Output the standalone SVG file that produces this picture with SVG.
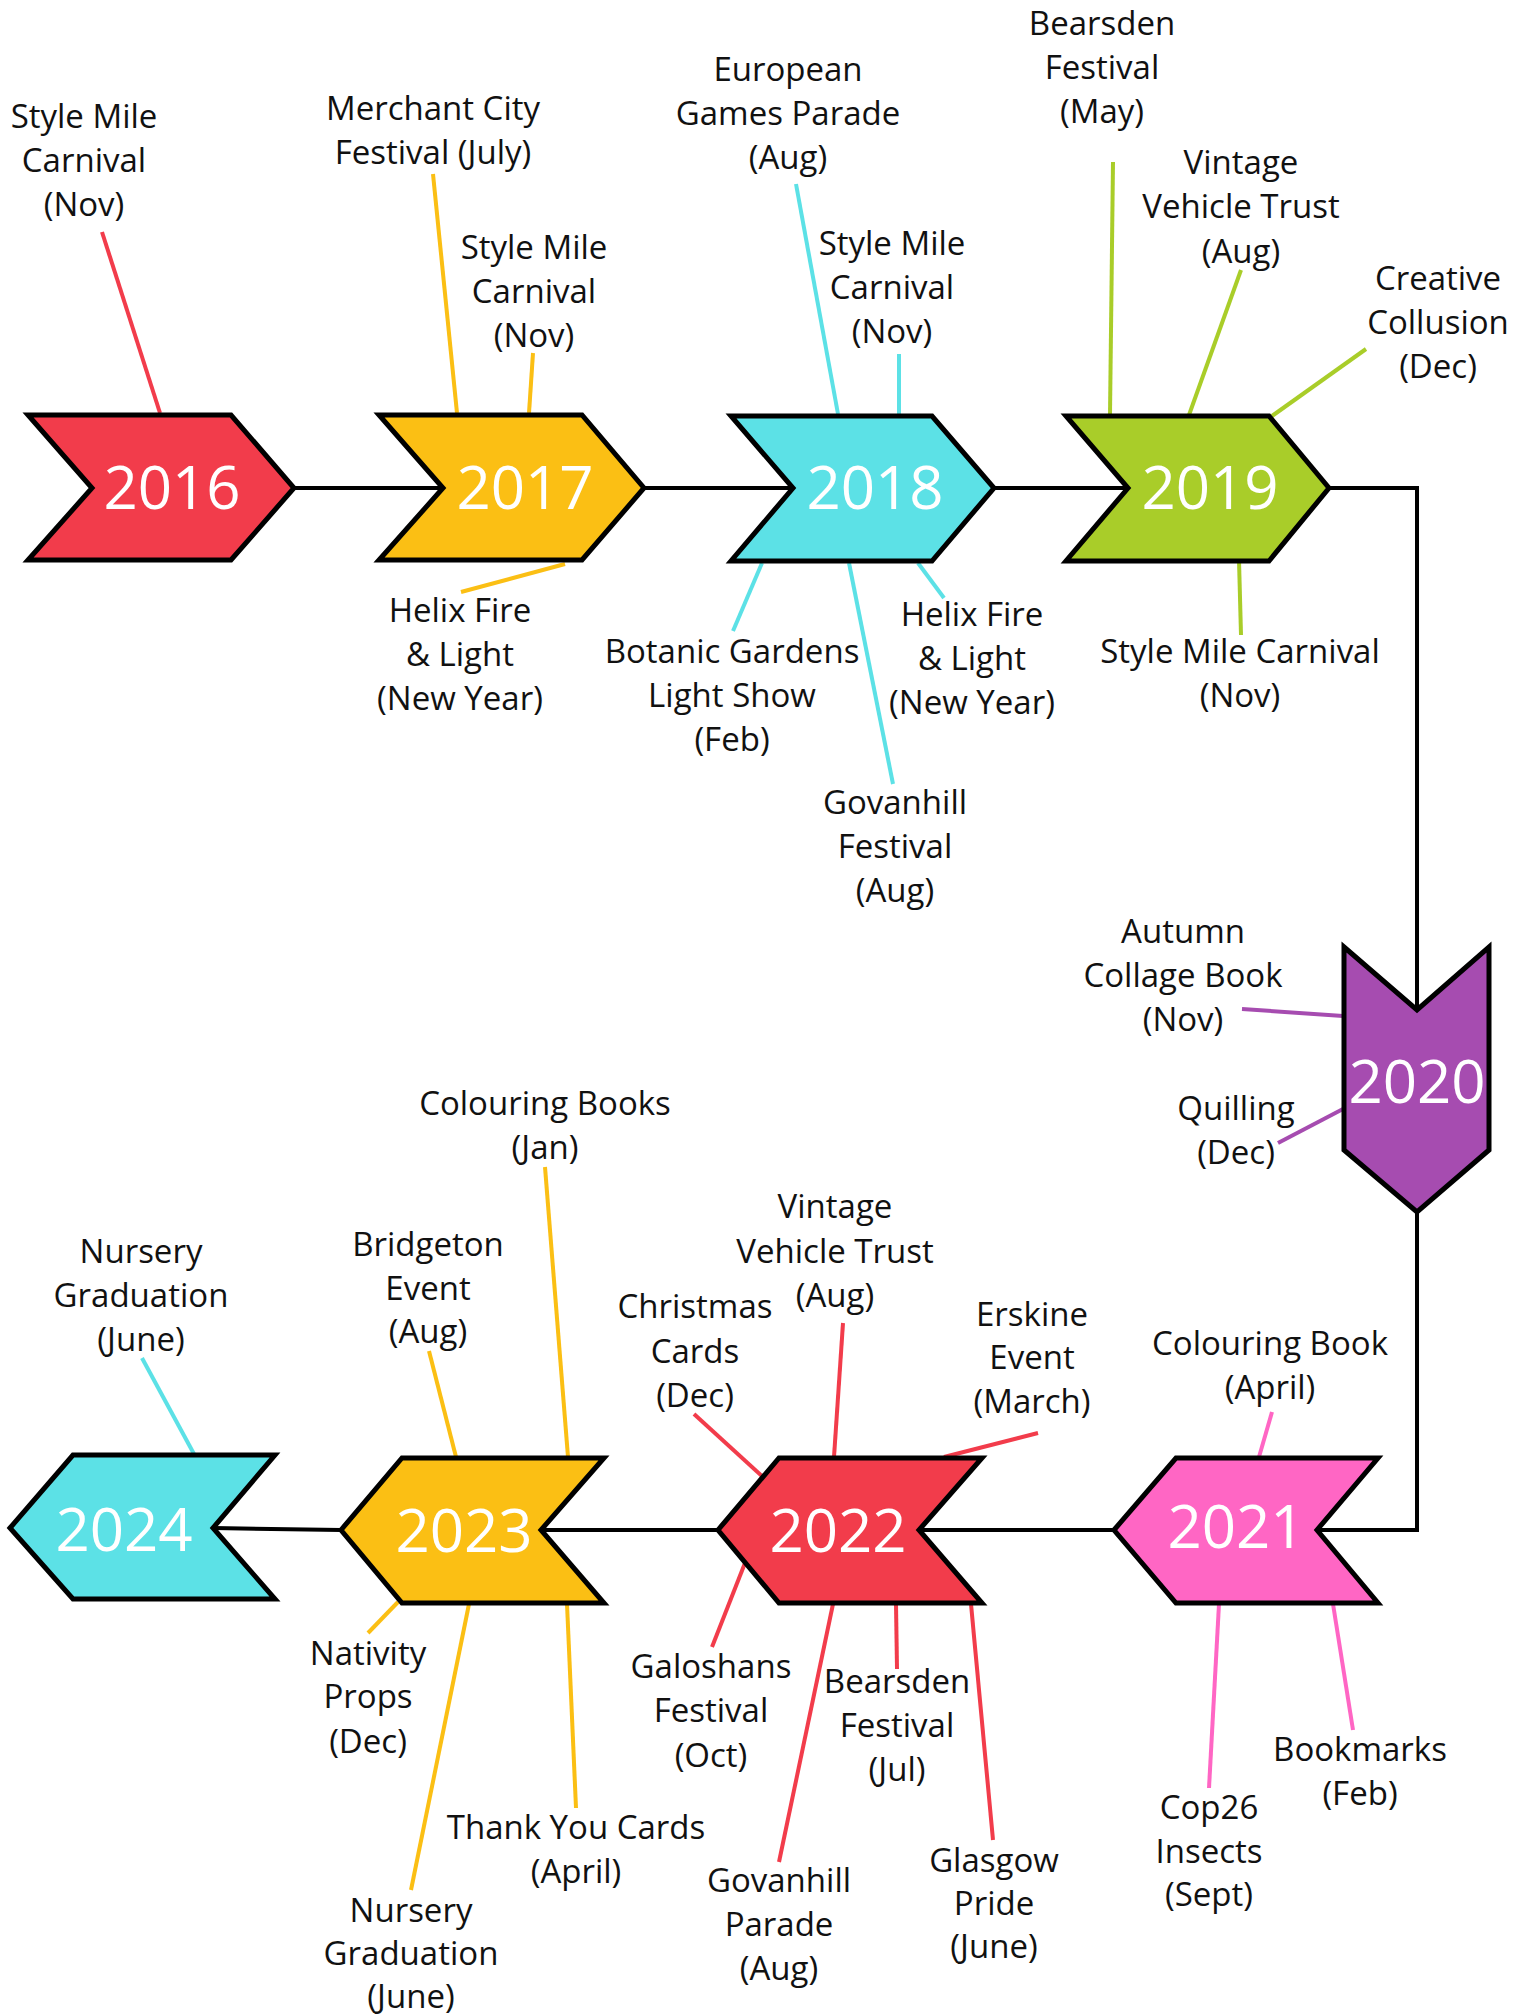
<svg xmlns="http://www.w3.org/2000/svg" width="1527" height="2015" viewBox="0 0 1527 2015">
<style>
.bg{fill:#ffffff}
.chev{stroke:#000;stroke-width:5;stroke-linejoin:miter}
.yr{font-family:"Open Sans","Noto Sans",sans-serif;font-size:60px;fill:#ffffff;text-anchor:middle}
.lb{font-family:"Open Sans","Noto Sans",sans-serif;font-size:33px;fill:#111;text-anchor:middle}
.tl{fill:none;stroke:#000;stroke-width:4}
.ld{stroke-width:4;fill:none}
.red{stroke:#F23C4B}.yel{stroke:#FBBF14}.cya{stroke:#5CE1E6}.grn{stroke:#A9CD29}.pur{stroke:#A64CB0}.pnk{stroke:#FF66C4}
</style>
<rect class="bg" x="0" y="0" width="1527" height="2015"/>
<g id="connectors">
<path class="tl" d="M294,488 L443,488 M644,488 L793,488 M994,488 L1128,488 M1329,488 L1417,488 L1417,1010 M1417,1212 L1417,1530 L1317,1530 M1114,1530 L919,1530 M718,1530 L541,1530 M341,1530 L213,1528"/>
<g class="ld red">
<line x1="102" y1="232" x2="160" y2="413"/>
<line x1="694" y1="1414" x2="763" y2="1477"/>
<line x1="843" y1="1323" x2="834" y2="1457"/>
<line x1="1038" y1="1433" x2="944" y2="1457"/>
<line x1="712" y1="1647" x2="745" y2="1563"/>
<line x1="897" y1="1669" x2="896" y2="1604"/>
<line x1="779" y1="1862" x2="833" y2="1604"/>
<line x1="993" y1="1840" x2="971" y2="1604"/>
</g>
<g class="ld yel">
<line x1="433" y1="174" x2="457" y2="413"/>
<line x1="533" y1="353" x2="529" y2="413"/>
<line x1="461" y1="592" x2="565" y2="564"/>
<line x1="429" y1="1351" x2="456" y2="1457"/>
<line x1="545" y1="1167" x2="568" y2="1457"/>
<line x1="368" y1="1633" x2="398" y2="1602"/>
<line x1="411" y1="1890" x2="469" y2="1604"/>
<line x1="576" y1="1808" x2="567" y2="1604"/>
</g>
<g class="ld cya">
<line x1="796" y1="184" x2="838" y2="414"/>
<line x1="899" y1="354" x2="899" y2="414"/>
<line x1="733" y1="631" x2="762" y2="563"/>
<line x1="893" y1="784" x2="849" y2="563"/>
<line x1="944" y1="598" x2="918" y2="563"/>
<line x1="142" y1="1358" x2="194" y2="1454"/>
</g>
<g class="ld grn">
<line x1="1113" y1="162" x2="1110" y2="415"/>
<line x1="1241" y1="270" x2="1189" y2="415"/>
<line x1="1366" y1="349" x2="1272" y2="416"/>
<line x1="1241" y1="635" x2="1239" y2="560"/>
</g>
<g class="ld pur">
<line x1="1242" y1="1009" x2="1343" y2="1016"/>
<line x1="1278" y1="1143" x2="1343" y2="1109"/>
</g>
<g class="ld pnk">
<line x1="1272" y1="1412" x2="1259" y2="1457"/>
<line x1="1209" y1="1788" x2="1219" y2="1604"/>
<line x1="1353" y1="1730" x2="1333" y2="1604"/>
</g>
</g>
<g id="node-2016">
<polygon class="chev" fill="#F23C4B" points="28,415 231,415 294,488 231,560 28,560 92,488"/>
<text class="yr" x="172" y="509">2016</text>
<text class="lb"><tspan x="84" y="128">Style Mile</tspan><tspan x="84" y="172">Carnival</tspan><tspan x="84" y="216">(Nov)</tspan></text>
</g>
<g id="node-2017">
<polygon class="chev" fill="#FBBF14" points="379,415 582,415 644,488 582,560 379,560 443,488"/>
<text class="yr" x="525" y="509">2017</text>
<text class="lb"><tspan x="433" y="120">Merchant City</tspan><tspan x="433" y="164">Festival (July)</tspan></text>
<text class="lb"><tspan x="534" y="259">Style Mile</tspan><tspan x="534" y="303">Carnival</tspan><tspan x="534" y="347">(Nov)</tspan></text>
<text class="lb"><tspan x="460" y="622">Helix Fire</tspan><tspan x="460" y="666">&amp; Light</tspan><tspan x="460" y="710">(New Year)</tspan></text>
</g>
<g id="node-2018">
<polygon class="chev" fill="#5CE1E6" points="731,416 932,416 994,488 932,561 731,561 793,488"/>
<text class="yr" x="875" y="509">2018</text>
<text class="lb"><tspan x="788" y="81">European</tspan><tspan x="788" y="125">Games Parade</tspan><tspan x="788" y="169">(Aug)</tspan></text>
<text class="lb"><tspan x="892" y="255">Style Mile</tspan><tspan x="892" y="299">Carnival</tspan><tspan x="892" y="343">(Nov)</tspan></text>
<text class="lb"><tspan x="732" y="663">Botanic Gardens</tspan><tspan x="732" y="707">Light Show</tspan><tspan x="732" y="751">(Feb)</tspan></text>
<text class="lb"><tspan x="895" y="814">Govanhill</tspan><tspan x="895" y="858">Festival</tspan><tspan x="895" y="902">(Aug)</tspan></text>
<text class="lb"><tspan x="972" y="626">Helix Fire</tspan><tspan x="972" y="670">&amp; Light</tspan><tspan x="972" y="714">(New Year)</tspan></text>
</g>
<g id="node-2019">
<polygon class="chev" fill="#A9CD29" points="1066,416 1269,416 1329,488 1269,561 1066,561 1128,488"/>
<text class="yr" x="1210" y="509">2019</text>
<text class="lb"><tspan x="1102" y="35">Bearsden</tspan><tspan x="1102" y="79">Festival</tspan><tspan x="1102" y="123">(May)</tspan></text>
<text class="lb"><tspan x="1241" y="174">Vintage</tspan><tspan x="1241" y="218">Vehicle Trust</tspan><tspan x="1241" y="263">(Aug)</tspan></text>
<text class="lb"><tspan x="1438" y="290">Creative</tspan><tspan x="1438" y="334">Collusion</tspan><tspan x="1438" y="378">(Dec)</tspan></text>
<text class="lb"><tspan x="1240" y="663">Style Mile Carnival</tspan><tspan x="1240" y="707">(Nov)</tspan></text>
</g>
<g id="node-2020">
<polygon class="chev" fill="#A64CB0" points="1344,947 1417,1010 1489,947 1489,1150 1417,1212 1344,1150"/>
<text class="yr" x="1417" y="1103">2020</text>
<text class="lb"><tspan x="1183" y="943">Autumn</tspan><tspan x="1183" y="987">Collage Book</tspan><tspan x="1183" y="1031">(Nov)</tspan></text>
<text class="lb"><tspan x="1236" y="1120">Quilling</tspan><tspan x="1236" y="1164">(Dec)</tspan></text>
</g>
<g id="node-2021">
<polygon class="chev" fill="#FF66C4" points="1114,1530 1176,1458 1378,1458 1317,1530 1378,1603 1176,1603"/>
<text class="yr" x="1236" y="1548">2021</text>
<text class="lb"><tspan x="1270" y="1355">Colouring Book</tspan><tspan x="1270" y="1399">(April)</tspan></text>
<text class="lb"><tspan x="1209" y="1819">Cop26</tspan><tspan x="1209" y="1863">Insects</tspan><tspan x="1209" y="1906">(Sept)</tspan></text>
<text class="lb"><tspan x="1360" y="1761">Bookmarks</tspan><tspan x="1360" y="1805">(Feb)</tspan></text>
</g>
<g id="node-2022">
<polygon class="chev" fill="#F23C4B" points="718,1530 779,1458 982,1458 919,1530 982,1603 779,1603"/>
<text class="yr" x="838" y="1552">2022</text>
<text class="lb"><tspan x="695" y="1318">Christmas</tspan><tspan x="695" y="1363">Cards</tspan><tspan x="695" y="1407">(Dec)</tspan></text>
<text class="lb"><tspan x="835" y="1218">Vintage</tspan><tspan x="835" y="1263">Vehicle Trust</tspan><tspan x="835" y="1307">(Aug)</tspan></text>
<text class="lb"><tspan x="1032" y="1326">Erskine</tspan><tspan x="1032" y="1369">Event</tspan><tspan x="1032" y="1413">(March)</tspan></text>
<text class="lb"><tspan x="711" y="1678">Galoshans</tspan><tspan x="711" y="1722">Festival</tspan><tspan x="711" y="1767">(Oct)</tspan></text>
<text class="lb"><tspan x="897" y="1693">Bearsden</tspan><tspan x="897" y="1737">Festival</tspan><tspan x="897" y="1781">(Jul)</tspan></text>
<text class="lb"><tspan x="779" y="1892">Govanhill</tspan><tspan x="779" y="1936">Parade</tspan><tspan x="779" y="1980">(Aug)</tspan></text>
<text class="lb"><tspan x="994" y="1872">Glasgow</tspan><tspan x="994" y="1915">Pride</tspan><tspan x="994" y="1958">(June)</tspan></text>
</g>
<g id="node-2023">
<polygon class="chev" fill="#FBBF14" points="341,1530 402,1458 604,1458 541,1530 604,1603 402,1603"/>
<text class="yr" x="464" y="1552">2023</text>
<text class="lb"><tspan x="428" y="1256">Bridgeton</tspan><tspan x="428" y="1300">Event</tspan><tspan x="428" y="1343">(Aug)</tspan></text>
<text class="lb"><tspan x="545" y="1115">Colouring Books</tspan><tspan x="545" y="1159">(Jan)</tspan></text>
<text class="lb"><tspan x="368" y="1665">Nativity</tspan><tspan x="368" y="1708">Props</tspan><tspan x="368" y="1753">(Dec)</tspan></text>
<text class="lb"><tspan x="411" y="1922">Nursery</tspan><tspan x="411" y="1965">Graduation</tspan><tspan x="411" y="2008">(June)</tspan></text>
<text class="lb"><tspan x="576" y="1839">Thank You Cards</tspan><tspan x="576" y="1883">(April)</tspan></text>
</g>
<g id="node-2024">
<polygon class="chev" fill="#5CE1E6" points="10,1528 73,1455 275,1455 213,1528 275,1599 73,1599"/>
<text class="yr" x="124" y="1551">2024</text>
<text class="lb"><tspan x="141" y="1263">Nursery</tspan><tspan x="141" y="1307">Graduation</tspan><tspan x="141" y="1351">(June)</tspan></text>
</g>
</svg>
